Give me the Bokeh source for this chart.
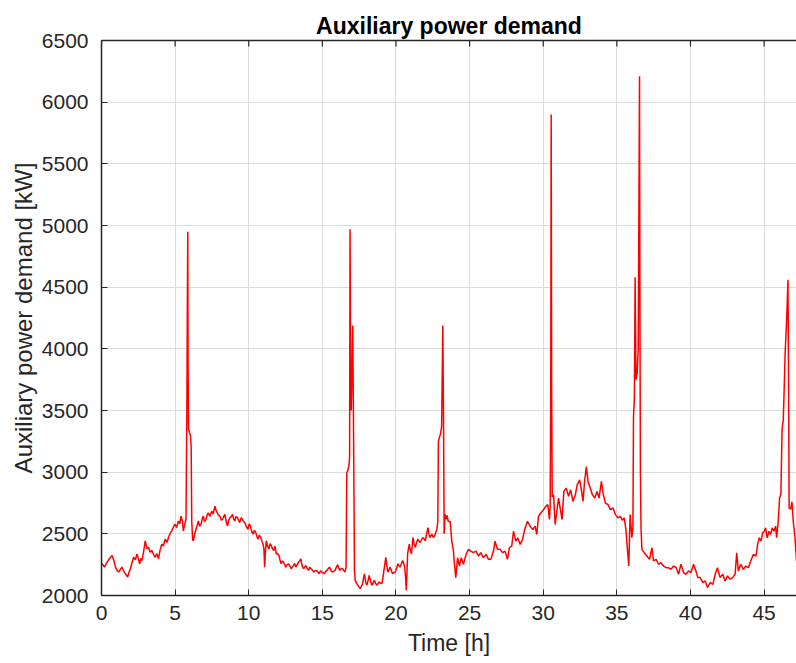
from bokeh.plotting import figure
from bokeh.models import FixedTicker, LinearAxis, Range1d
from bokeh.embed import file_html
from bokeh.resources import INLINE

# ---- data ----
time_h = [
    0.00, 0.05, 0.20, 0.38, 0.55, 0.72, 0.85, 0.95, 1.08, 1.17, 1.30, 1.40, 1.52, 1.62, 1.78, 1.88, 1.96,
    2.08, 2.18, 2.30, 2.41, 2.50, 2.59, 2.68, 2.75, 2.85, 2.97, 3.08, 3.20, 3.30, 3.42, 3.55, 3.65, 3.75,
    3.87, 3.98, 4.10, 4.20, 4.32, 4.45, 4.55, 4.65, 4.77, 4.90, 5.00, 5.10, 5.22, 5.32, 5.40, 5.50, 5.56,
    5.66, 5.74, 5.80, 5.83, 5.86, 5.88, 5.91, 5.97, 6.04, 6.09, 6.13, 6.19, 6.24, 6.33, 6.42, 6.50, 6.58,
    6.67, 6.76, 6.84, 6.91, 7.00, 7.09, 7.17, 7.25, 7.36, 7.48, 7.58, 7.70, 7.78, 7.86, 7.95, 8.04, 8.13,
    8.22, 8.30, 8.38, 8.47, 8.56, 8.64, 8.72, 8.81, 8.90, 8.98, 9.05, 9.14, 9.23, 9.31, 9.39, 9.48, 9.57,
    9.65, 9.73, 9.84, 9.95, 10.03, 10.11, 10.20, 10.29, 10.38, 10.47, 10.55, 10.63, 10.72, 10.81, 10.90,
    10.97, 11.03, 11.08, 11.13, 11.19, 11.28, 11.37, 11.45, 11.53, 11.61, 11.69, 11.78, 11.87, 11.95,
    12.05, 12.12, 12.20, 12.28, 12.36, 12.44, 12.52, 12.61, 12.70, 12.79, 12.88, 12.96, 13.04, 13.12,
    13.20, 13.29, 13.38, 13.46, 13.54, 13.63, 13.72, 13.80, 13.88, 13.97, 14.06, 14.15, 14.24, 14.33,
    14.42, 14.51, 14.60, 14.69, 14.78, 14.87, 14.96, 15.05, 15.14, 15.23, 15.32, 15.41, 15.50, 15.59,
    15.68, 15.77, 15.86, 15.95, 16.04, 16.12, 16.20, 16.29, 16.38, 16.46, 16.54, 16.61, 16.66, 16.72,
    16.80, 16.85, 16.88, 16.92, 16.96, 17.02, 17.06, 17.12, 17.18, 17.23, 17.32, 17.41, 17.49, 17.57,
    17.65, 17.73, 17.80, 17.86, 17.94, 18.02, 18.10, 18.18, 18.27, 18.36, 18.44, 18.52, 18.61, 18.70,
    18.78, 18.86, 18.95, 19.04, 19.11, 19.18, 19.25, 19.31, 19.38, 19.45, 19.53, 19.61, 19.69, 19.77,
    19.86, 19.95, 20.04, 20.13, 20.21, 20.29, 20.37, 20.45, 20.52, 20.59, 20.65, 20.70, 20.75, 20.79,
    20.85, 20.90, 20.97, 21.04, 21.10, 21.15, 21.23, 21.31, 21.40, 21.49, 21.57, 21.65, 21.73, 21.81,
    21.90, 21.99, 22.08, 22.17, 22.24, 22.31, 22.38, 22.44, 22.53, 22.63, 22.70, 22.78, 22.84, 22.88,
    22.95, 23.02, 23.10, 23.18, 23.23, 23.27, 23.33, 23.40, 23.47, 23.55, 23.68, 23.79, 23.90, 23.95,
    24.06, 24.18, 24.31, 24.43, 24.58, 24.76, 24.92, 25.08, 25.26, 25.44, 25.60, 25.76, 25.94, 26.12,
    26.28, 26.44, 26.62, 26.73, 26.89, 27.07, 27.25, 27.41, 27.57, 27.70, 27.86, 27.98, 28.14, 28.27,
    28.43, 28.59, 28.77, 28.93, 29.11, 29.29, 29.45, 29.56, 29.68, 29.84, 30.02, 30.17, 30.31, 30.42,
    30.47, 30.51, 30.54, 30.57, 30.61, 30.70, 30.81, 30.92, 31.04, 31.16, 31.28, 31.40, 31.56, 31.72,
    31.86, 32.02, 32.18, 32.31, 32.47, 32.59, 32.70, 32.81, 32.93, 33.04, 33.16, 33.34, 33.50, 33.65,
    33.79, 33.95, 34.06, 34.22, 34.40, 34.56, 34.74, 34.90, 35.08, 35.24, 35.37, 35.50, 35.61, 35.70,
    35.81, 35.90, 36.02, 36.09, 36.13, 36.19, 36.24, 36.30, 36.38, 36.45, 36.54, 36.57, 36.60, 36.64,
    36.70, 36.86, 37.04, 37.22, 37.38, 37.49, 37.67, 37.83, 37.99, 38.17, 38.35, 38.51, 38.67, 38.85,
    39.03, 39.19, 39.35, 39.53, 39.69, 39.87, 40.03, 40.21, 40.37, 40.50, 40.66, 40.84, 41.00, 41.16,
    41.34, 41.52, 41.68, 41.83, 42.01, 42.19, 42.35, 42.51, 42.69, 42.87, 43.03, 43.14, 43.25, 43.41,
    43.59, 43.75, 43.93, 44.09, 44.27, 44.45, 44.56, 44.67, 44.79, 44.90, 45.01, 45.10, 45.21, 45.33,
    45.44, 45.55, 45.67, 45.78, 45.85, 45.96, 46.05, 46.14, 46.22, 46.30, 46.37, 46.43, 46.50, 46.55,
    46.62, 46.66, 46.70, 46.80, 46.89, 46.98, 47.10, 47.20,
]

demand_kw = [
    2250, 2257, 2230, 2270, 2300, 2324, 2280, 2230, 2200, 2190, 2215, 2230, 2195, 2176, 2150, 2190, 2217,
    2270, 2310, 2290, 2337, 2300, 2257, 2300, 2283, 2350, 2444, 2380, 2390, 2350, 2364, 2330, 2310, 2340,
    2297, 2370, 2417, 2400, 2457, 2430, 2470, 2500, 2524, 2560, 2578, 2550, 2604, 2580, 2644, 2600, 2524,
    2580, 2620, 3550, 4350, 4950, 3900, 3350, 3320, 3300, 3200, 2600, 2450, 2444, 2500, 2537, 2570, 2604,
    2560, 2578, 2620, 2644, 2600, 2618, 2650, 2671, 2640, 2684, 2660, 2725, 2690, 2671, 2650, 2644, 2610,
    2618, 2640, 2658, 2600, 2564, 2610, 2631, 2640, 2658, 2620, 2604, 2640, 2631, 2610, 2591, 2630, 2618,
    2600, 2591, 2560, 2537, 2580, 2564, 2520, 2497, 2530, 2510, 2480, 2457, 2490, 2470, 2440,
    2417, 2380, 2230, 2350, 2444, 2400, 2377, 2420, 2404, 2380, 2364, 2400, 2337, 2340,
    2324, 2290, 2257, 2280, 2270, 2250, 2230, 2250, 2257, 2240, 2217, 2230, 2243, 2260,
    2230, 2250, 2270, 2280, 2297, 2240, 2217, 2230, 2243, 2220, 2203, 2230, 2217, 2205,
    2190, 2200, 2203, 2190, 2176, 2200, 2190, 2185, 2176, 2195, 2203, 2220, 2230, 2200,
    2190, 2195, 2203, 2230, 2250, 2220, 2203, 2220, 2217, 2200, 2190, 2230, 3000, 3010,
    3050, 3120, 4970, 3800, 3500, 3900, 4190, 3300, 2200, 2123, 2100, 2083, 2070, 2056,
    2075, 2096, 2140, 2176, 2110, 2083, 2120, 2163, 2120, 2083, 2100, 2123, 2100, 2083,
    2095, 2110, 2100, 2096, 2140, 2203, 2260, 2310, 2240, 2190, 2210, 2230, 2200, 2176,
    2185, 2190, 2220, 2257, 2240, 2230, 2260, 2283, 2260, 2230, 2150, 2043, 2200, 2337,
    2380, 2417, 2370, 2337, 2400, 2470, 2420, 2390, 2430, 2457, 2440, 2430, 2450, 2470,
    2460, 2444, 2500, 2551, 2500, 2470, 2485, 2497, 2470, 2484, 2510, 2537, 2600, 3250,
    3280, 3310, 3370, 4190, 3400, 2500, 2660, 2620, 2650, 2600, 2600, 2441, 2363, 2280,
    2145, 2306, 2239, 2306, 2253, 2333, 2374, 2360, 2347, 2360, 2320, 2347, 2306, 2333,
    2293, 2293, 2360, 2441, 2374, 2374, 2347, 2360, 2293, 2387, 2401, 2521, 2441, 2468,
    2414, 2454, 2548, 2602, 2562, 2535, 2562, 2495, 2642, 2669, 2696, 2723, 2737, 2616,
    2720, 3700, 5900, 3700, 2800, 2817, 2575, 2683, 2790, 2700, 2616, 2844, 2871, 2804,
    2858, 2763, 2817, 2898, 2938, 2858, 2763, 2925, 3046, 2925, 2884, 2817, 2790, 2844,
    2790, 2925, 2830, 2750, 2737, 2696, 2710, 2656, 2629, 2642, 2610, 2629, 2540, 2400,
    2239, 2656, 2468, 2550, 3450, 3600, 4580, 3750, 3800, 4000, 6210, 4200, 3000, 2550,
    2374, 2347, 2320, 2293, 2387, 2280, 2293, 2253, 2266, 2239, 2226, 2226, 2212, 2239,
    2226, 2172, 2253, 2186, 2172, 2199, 2186, 2253, 2199, 2145, 2145, 2105, 2118, 2065,
    2105, 2091, 2172, 2226, 2145, 2172, 2118, 2159, 2132, 2145, 2172, 2347, 2199, 2253,
    2212, 2239, 2226, 2280, 2333, 2320, 2414, 2468, 2441, 2508, 2521, 2548, 2468, 2521,
    2495, 2548, 2521, 2562, 2468, 2602, 2790, 2820, 3350, 3420, 3700, 3970, 4150, 4300,
    4560, 3800, 2709, 2700, 2760, 2600, 2468, 2280,
]

x_ticks = [0, 5, 10, 15, 20, 25, 30, 35, 40, 45]
y_ticks = [2000, 2500, 3000, 3500, 4000, 4500, 5000, 5500, 6000, 6500]
x_min, x_max = 0, 47.2
y_min, y_max = 2000, 6500

FONT = "Liberation Sans"
AX = "#262626"

p = figure(
    width=796, height=663,
    x_range=Range1d(x_min, x_max), y_range=Range1d(y_min, y_max),
    output_backend="svg", toolbar_location=None,
    title="Auxiliary power demand",
    min_border_left=101, min_border_right=0, min_border_top=40, min_border_bottom=68,
)
p.outline_line_color = None
p.background_fill_color = "white"
p.border_fill_color = "white"

p.title.text_font = FONT
p.title.text_font_style = "bold"
p.title.text_font_size = "23px"
p.title.text_color = "#000000"
p.title.align = "center"
p.title.standoff = 4

p.line(time_h, demand_kw, line_color="#ff0000", line_width=1.5)

for ax in (p.xaxis[0], p.yaxis[0]):
    ax.axis_line_color = AX
    ax.axis_line_width = 1.5
    ax.major_tick_line_color = AX
    ax.major_tick_in = 6
    ax.major_tick_out = 0
    ax.minor_tick_in = 0
    ax.minor_tick_out = 0
    ax.major_label_text_font = FONT
    ax.major_label_text_font_size = "21px"
    ax.major_label_text_color = AX
    ax.axis_label_text_font = FONT
    ax.axis_label_text_font_style = "normal"
    ax.axis_label_text_color = AX

p.xaxis[0].ticker = FixedTicker(ticks=x_ticks)
p.yaxis[0].ticker = FixedTicker(ticks=y_ticks)
p.xaxis[0].axis_label = "Time [h]"
p.yaxis[0].axis_label = "Auxiliary power demand [kW]"
p.xaxis[0].axis_label_text_font_size = "23px"
p.yaxis[0].axis_label_text_font_size = "24px"
p.xaxis[0].major_label_standoff = 10
p.yaxis[0].major_label_standoff = 13
p.xaxis[0].axis_label_standoff = 7
p.yaxis[0].axis_label_standoff = 2

# top frame line (no ticks/labels) + inward tick marks at the x tick positions
top = LinearAxis(ticker=FixedTicker(ticks=[]), axis_line_color=AX, axis_line_width=1.5,
                 major_tick_in=0, major_tick_out=0, minor_tick_in=0, minor_tick_out=0)
p.add_layout(top, "above")
tick_len = (y_max - y_min) * 6 / 555
p.segment(x0=x_ticks, y0=[y_max] * len(x_ticks), x1=x_ticks,
          y1=[y_max - tick_len] * len(x_ticks), line_color=AX, line_width=1.2)

p.xgrid.ticker = FixedTicker(ticks=x_ticks)
p.ygrid.ticker = FixedTicker(ticks=y_ticks)
p.xgrid.grid_line_color = "#dcdcdc"
p.ygrid.grid_line_color = "#dcdcdc"

open("out.html", "w").write(file_html(p, INLINE))
